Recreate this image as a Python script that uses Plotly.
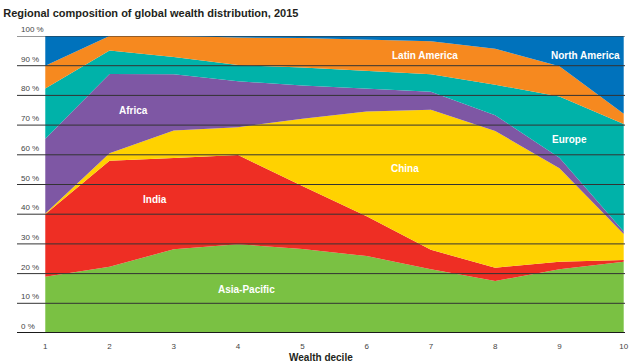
import plotly.graph_objects as go

deciles = [1, 2, 3, 4, 5, 6, 7, 8, 9, 10]
asia_pacific = [18.9, 22.3, 28.2, 29.9, 28.3, 25.9, 21.5, 17.5, 21.5, 24.0]
india = [21.1, 35.7, 30.7, 30.0, 21.2, 13.4, 6.5, 4.5, 2.5, 0.6]
china = [0.2, 2.5, 9.3, 9.4, 22.6, 35.3, 47.2, 46.0, 31.5, 8.7]
africa = [25.2, 26.7, 18.9, 15.5, 11.2, 7.7, 6.0, 5.3, 3.5, 0.9]
europe = [16.9, 7.9, 5.8, 5.4, 6.1, 6.0, 5.9, 10.3, 20.6, 36.2]
latin_america = [7.7, 4.9, 7.1, 9.3, 9.9, 10.4, 11.1, 12.1, 10.2, 3.4]
north_america = [10.0, 0.0, 0.0, 0.5, 0.7, 1.3, 1.8, 4.3, 10.2, 26.2]

y_ticks = [0, 10, 20, 30, 40, 50, 60, 70, 80, 90, 100]
y_tick_labels = ["0 %", "10 %", "20 %", "30 %", "40 %", "50 %", "60 %", "70 %", "80 %", "90 %", "100 %"]

series = [
    ("Asia-Pacific", asia_pacific, "#7AC143", 4.13, 14.8),
    ("India", india, "#EE2E24", 2.71, 45.1),
    ("China", china, "#FFD200", 6.6, 55.3),
    ("Africa", africa, "#7E57A4", 2.37, 75.0),
    ("Europe", europe, "#00B2A9", 9.15, 65.1),
    ("Latin America", latin_america, "#F6891F", 6.91, 93.3),
    ("North America", north_america, "#0072BC", 9.41, 93.3),
]

FONT = "Liberation Sans, Arial, sans-serif"

fig = go.Figure()
for name, vals, color, lx, ly in series:
    fig.add_trace(go.Scatter(
        x=deciles, y=vals, name=name, mode="lines",
        stackgroup="one", line=dict(width=0, color=color),
        fillcolor=color, hoverinfo="x+y+name",
    ))

annotations = []
for name, vals, color, lx, ly in series:
    annotations.append(dict(
        x=lx, y=ly, xref="x", yref="y", text="<b>%s</b>" % name,
        showarrow=False, font=dict(family=FONT, size=10, color="white"),
    ))

shapes = []
for v, lab in zip(y_ticks, y_tick_labels):
    shapes.append(dict(
        type="line", xref="paper", yref="y", x0=0, x1=1, y0=v, y1=v,
        line=dict(color="#1a1a1a" if v == 0 else "#333333", width=2 if v == 0 else 1),
        layer="above",
    ))
    annotations.append(dict(
        x=0, y=v, xref="paper", yref="y", text=lab, showarrow=False,
        xanchor="left", yanchor="bottom", xshift=2, yshift=0,
        font=dict(family=FONT, size=8, color="#444444"),
    ))

annotations.append(dict(
    x=0.5, y=0, xref="paper", yref="paper", text="<b>Wealth decile</b>",
    showarrow=False, yanchor="top", yshift=-17,
    font=dict(family=FONT, size=10, color="#231F20"),
))

fig.update_layout(
    width=640, height=362,
    margin=dict(l=17, r=11, t=36, b=29),
    paper_bgcolor="white", plot_bgcolor="white",
    showlegend=False,
    title=dict(
        text="<b>Regional composition of global wealth distribution, 2015</b>",
        x=0.005, xanchor="left", y=0.975, yanchor="top",
        font=dict(family=FONT, size=11, color="#231F20"),
    ),
    xaxis=dict(
        range=[0.56, 10.02], tickvals=deciles, ticktext=[str(d) for d in deciles],
        showgrid=False, zeroline=False, showline=False,
        ticks="outside", ticklen=5, tickcolor="rgba(0,0,0,0)",
        tickfont=dict(family=FONT, size=8, color="#444444"),
    ),
    yaxis=dict(
        range=[0, 100], showgrid=False, zeroline=False, showline=False,
        showticklabels=False,
    ),
    shapes=shapes,
    annotations=annotations,
)

fig.write_html(
    "out.html",
    config={"displayModeBar": False},
    post_script="document.body.style.margin='0px';document.body.style.overflow='hidden';",
)
